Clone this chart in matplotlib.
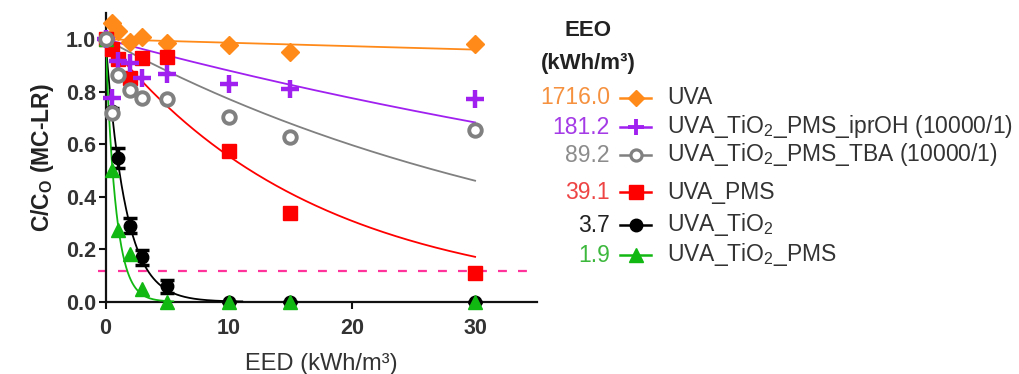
import numpy as np
import matplotlib
matplotlib.use("Agg")
import matplotlib.pyplot as plt
from matplotlib.lines import Line2D

plt.rcParams['font.family'] = ['Liberation Sans', 'DejaVu Sans']
plt.rcParams['mathtext.fontset'] = 'custom'
plt.rcParams['mathtext.rm'] = 'Liberation Sans'
plt.rcParams['mathtext.it'] = 'Liberation Sans:italic'
plt.rcParams['mathtext.bf'] = 'Liberation Sans:bold'

# ---------------- data ----------------
eed = [0, 0.5, 1, 2, 3, 5, 10, 15, 30]

series_names = ["UVA",
                "UVA_TiO$_2$_PMS_iprOH (10000/1)",
                "UVA_TiO$_2$_PMS_TBA (10000/1)",
                "UVA_PMS",
                "UVA_TiO$_2$",
                "UVA_TiO$_2$_PMS"]
eeo_values = [1716.0, 181.2, 89.2, 39.1, 3.7, 1.9]
eeo_labels = ["1716.0", "181.2", "89.2", "39.1", "3.7", "1.9"]

uva = [1.0, 1.06, 1.03, 0.99, 1.01, 0.985, 0.978, 0.952, 0.981]
uva_tio2_pms_iproh = [1.0, 0.777, 0.917, 0.908, 0.854, 0.866, 0.831, 0.809, 0.774]
uva_tio2_pms_tba = [1.0, 0.72, 0.864, 0.805, 0.775, 0.771, 0.705, 0.629, 0.656]
uva_pms = [1.0, 0.962, 0.924, 0.854, 0.929, 0.934, 0.574, 0.339, 0.110]
uva_tio2 = [1.0, 0.726, 0.548, 0.290, 0.169, 0.058, 0.0, 0.0, 0.0]
uva_tio2_err = [0.0, 0.012, 0.038, 0.030, 0.029, 0.025, 0.0, 0.0, 0.0]
uva_tio2_pms = [1.0, 0.503, 0.274, 0.183, 0.050, 0.0, 0.0, 0.0, 0.0]

fit_xmax = [30, 30, 30, 30, 11.1, 5.5]
threshold = 0.116

# ---------------- styles ----------------
colors = ['#FF8A1A', '#A020F0', '#808080', '#FF0000', '#000000', '#12B812']
num_colors = ['#F5913F', '#A43BE6', '#8C8C8C', '#EE4444', '#222222', '#3DB83D']
W, H = 1019, 374

fig = plt.figure(figsize=(W / 100, H / 100), dpi=100)
x0, x1, yb, yt = 105.5, 536.7, 301.7, 13.0
ax = fig.add_axes([x0 / W, 1 - yb / H, (x1 - x0) / W, (yb - yt) / H])
ax.set_xlim(0, 35)
ax.set_ylim(0, 1.1)

for s in ['top', 'right']:
    ax.spines[s].set_visible(False)
for s in ['left', 'bottom']:
    ax.spines[s].set_linewidth(1.6)
    ax.spines[s].set_color('#111111')

ax.set_xticks([0, 10, 20, 30])
ax.set_yticks([0, 0.2, 0.4, 0.6, 0.8, 1.0])
ax.set_yticklabels(["%.1f" % v for v in [0, 0.2, 0.4, 0.6, 0.8, 1.0]])
ax.tick_params(axis='both', direction='out', length=5, width=1.5, color='#111111',
               labelsize=15.5, labelcolor='#333333')
ax.tick_params(axis='x', pad=7)
ax.tick_params(axis='y', pad=2)
for lab in ax.get_xticklabels() + ax.get_yticklabels():
    lab.set_fontweight('bold')

ax.set_ylabel("C/C$_\\mathbf{O}$ (MC-LR)", fontsize=16.5, fontweight='bold', color='#222222', labelpad=7)
ax.set_xlabel("EED (kWh/m³)", fontsize=17, color='#333333', labelpad=10)

# threshold line
ax.plot([-0.6, 35], [threshold, threshold], color='#FF3399', lw=1.6,
        linestyle=(0, (4, 5)), clip_on=False, zorder=2)

# fit curves from EEO values: C/C0 = 10^(-EED/EEO)
for eeo_v, xm, c in zip(eeo_values, fit_xmax, colors):
    xs = np.linspace(0, xm, 300)
    ax.plot(xs, 10 ** (-xs / eeo_v), color=c, lw=1.3, zorder=3)

# markers
mk = dict(clip_on=False, linestyle='none')
ax.plot(eed, uva, marker='D', ms=9.5, color=colors[0], mec=colors[0], zorder=4, **mk)
ax.plot(eed, uva_pms, marker='s', ms=10.5, color=colors[3], mec=colors[3], zorder=4.2, **mk)
ax.errorbar(eed, uva_tio2, yerr=uva_tio2_err, fmt='o', ms=9, color=colors[4],
            ecolor=colors[4], elinewidth=2.5, capsize=5, capthick=2.5, clip_on=False, zorder=4.4)
ax.plot(eed, uva_tio2_pms, marker='^', ms=10, color=colors[5], mec=colors[5], zorder=5, **mk)
ax.plot(eed, uva_tio2_pms_iproh, marker='+', ms=13, mew=3.2, color=colors[1], zorder=5.2, **mk)
ax.plot(eed, uva_tio2_pms_tba, marker='o', ms=9, mew=2.8, mfc='white', mec=colors[2], zorder=5.4, **mk)

# legend (manual)
def fx(px):
    return px / W

def fy(py):
    return 1 - py / H

fig.text(fx(588), fy(30), "EEO", ha='center', va='center', fontsize=16, fontweight='bold', color='#222222')
fig.text(fx(588), fy(64), "(kWh/m³)", ha='center', va='center', fontsize=16, fontweight='bold', color='#222222')

row_y = [98, 127, 155, 192, 225, 255]
leg_markers = [dict(marker='D', ms=8), dict(marker='+', ms=12, mew=2.8),
               dict(marker='o', ms=8, mew=2.3, mfc='white'), dict(marker='s', ms=9.5),
               dict(marker='o', ms=9), dict(marker='^', ms=9.5)]
for i in range(6):
    y = row_y[i]
    fig.text(fx(610), fy(y), eeo_labels[i], ha='right', va='center', fontsize=16.5, color=num_colors[i])
    ln = Line2D([fx(620), fx(651)], [fy(y), fy(y)], transform=fig.transFigure,
                color=colors[i], lw=1.8)
    fig.add_artist(ln)
    kw = dict(leg_markers[i])
    if 'mfc' not in kw:
        kw['mfc'] = colors[i]
    mkr = Line2D([fx(635.5)], [fy(y)], transform=fig.transFigure, color=colors[i],
                 mec=colors[i], linestyle='none', **kw)
    fig.add_artist(mkr)
    fig.text(fx(667), fy(y), series_names[i], ha='left', va='center', fontsize=16.5, color='#333333')

fig.savefig("out.png", dpi=100)
